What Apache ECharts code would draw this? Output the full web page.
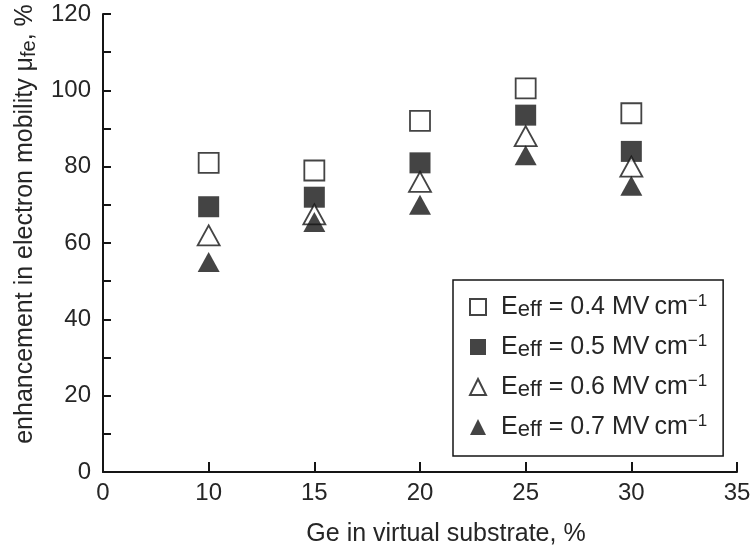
<!DOCTYPE html>
<html>
<head>
<meta charset="utf-8">
<script src="https://cdn.jsdelivr.net/npm/echarts@6/dist/echarts.min.js"></script>
<style>
html,body{margin:0;padding:0;background:#fff;}
#c{width:754px;height:552px;}
</style>
</head>
<body>
<div id="c"></div>
<script>
// Tick labels of the (evenly spaced) x axis, as printed
const xCategories = ['0', '10', '15', '20', '25', '30', '35'];
// Ge content of the virtual substrate, %
const geContent = ['10', '15', '20', '25', '30'];
// Enhancement in electron mobility, % for each effective field
const e04 = [81, 79, 92, 100.5, 94];
const e05 = [69.5, 72, 81, 93.5, 84];
const e06 = [62, 67.5, 76, 88, 80];
const e07 = [55, 65.5, 70, 83, 75];
const seriesNames = ['0.4', '0.5', '0.6', '0.7'];

const ink = '#151515';
const txt = '#262626';
const font = 'Liberation Sans, Arial, sans-serif';

function pts(vals) { return geContent.map((g, i) => [g, vals[i]]); }

const styles = [
  { symbol: 'rect', size: 20, itemStyle: { color: '#fff', borderColor: ink, borderWidth: 1.8 } },
  { symbol: 'rect', size: 21, itemStyle: { color: ink, borderColor: ink, borderWidth: 0 } },
  { symbol: 'triangle', size: [22, 20], itemStyle: { color: '#fff', borderColor: ink, borderWidth: 1.8 } },
  { symbol: 'triangle', size: [22, 20], itemStyle: { color: ink, borderColor: ink, borderWidth: 0 } }
];
const allVals = [e04, e05, e06, e07];

const series = seriesNames.map((n, k) => ({
  name: n,
  type: 'scatter',
  symbol: styles[k].symbol,
  symbolSize: styles[k].size,
  itemStyle: styles[k].itemStyle,
  data: pts(allVals[k]),
  z: 10 + k
}));

const chart = echarts.init(document.getElementById('c'), null, { renderer: 'canvas' });
chart.setOption({
  animation: false,
  backgroundColor: '#fff',
  textStyle: { fontFamily: font },
  grid: { left: 103, right: 17, top: 14, bottom: 78 },
  legend: {
    orient: 'vertical',
    left: 453,
    top: 280,
    padding: [13, 16, 15, 16],
    itemGap: 12,
    itemWidth: 16,
    itemHeight: 16,
    backgroundColor: '#fff',
    borderColor: ink,
    borderWidth: 1.5,
    data: seriesNames.map((n, k) => ({ name: n, icon: styles[k].symbol })),
    formatter: function (name) {
      return '{e|E}{s|eff}{m| = ' + name + ' MV\u2009cm}{p|−1}';
    },
    textStyle: {
      color: txt,
      fontFamily: font,
      rich: {
        e: { fontSize: 25, lineHeight: 28, color: txt, padding: [0, 0, 0, 10], fontFamily: font },
        s: { fontSize: 22, lineHeight: 17, verticalAlign: 'bottom', color: txt, fontFamily: font },
        m: { fontSize: 25, lineHeight: 28, color: txt, fontFamily: font },
        p: { fontSize: 17, lineHeight: 14, verticalAlign: 'top', color: txt, fontFamily: font }
      }
    }
  },
  xAxis: {
    type: 'category',
    data: xCategories,
    boundaryGap: false,
    name: 'Ge in virtual substrate, %',
    nameLocation: 'middle',
    nameGap: 50,
    nameTextStyle: { fontSize: 25, color: txt, fontFamily: font, padding: [0, 0, 0, 52] },
    axisLine: { lineStyle: { color: ink, width: 2 } },
    axisTick: { inside: true, length: 10, alignWithLabel: true, lineStyle: { color: ink, width: 2 } },
    axisLabel: { fontSize: 24, color: txt, margin: 9, fontFamily: font },
    splitLine: { show: false }
  },
  yAxis: {
    type: 'value',
    min: 0,
    max: 120,
    interval: 20,
    name: '{a|enhancement in electron mobility μ}{s|fe}{a|, %}',
    nameLocation: 'middle',
    nameRotate: 90,
    nameGap: 64,
    nameTextStyle: {
      color: txt,
      fontFamily: font,
      padding: [0, 0, 0, 38],
      rich: {
        a: { fontSize: 25, lineHeight: 28, color: txt, fontFamily: font },
        s: { fontSize: 20, lineHeight: 18, verticalAlign: 'bottom', color: txt, fontFamily: font }
      }
    },
    axisLine: { show: true, lineStyle: { color: ink, width: 2 } },
    axisTick: { show: true, inside: true, length: 8, lineStyle: { color: ink, width: 2 } },
    minorTick: { show: true, splitNumber: 2, length: 8, lineStyle: { color: ink, width: 2 } },
    axisLabel: { fontSize: 24, color: txt, margin: 12, fontFamily: font },
    splitLine: { show: false },
    minorSplitLine: { show: false }
  },
  series: series
});
</script>
</body>
</html>
